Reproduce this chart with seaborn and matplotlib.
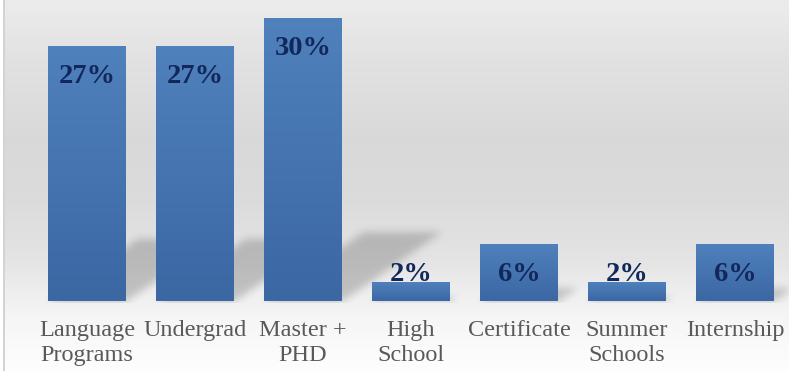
import numpy as np
import pandas as pd
import matplotlib
matplotlib.use("Agg")
import matplotlib.pyplot as plt
import matplotlib.colors as mcolors
import seaborn as sns

# ---- data ----
categories = ["Language\nPrograms", "Undergrad", "Master +\nPHD", "High\nSchool",
              "Certificate", "Summer\nSchools", "Internship"]
values = [27, 27, 30, 2, 6, 2, 6]
value_labels = ["27%", "27%", "30%", "2%", "6%", "2%", "6%"]

df = pd.DataFrame({"category": categories, "value": values})

sns.set_theme(style="white")
plt.rcParams["font.family"] = ["Liberation Serif", "DejaVu Serif"]

W, H = 789, 371
fig = plt.figure(figsize=(W / 100, H / 100), dpi=100)

# ---- background gradient ----
bg = fig.add_axes([0, 0, 1, 1], zorder=0)
ys = np.arange(H)
stops_y = [0, 60, 140, 200, 260, 300, 320, 371]
stops_v = [0.925, 0.885, 0.85, 0.86, 0.895, 0.945, 0.965, 0.995]
col = np.interp(ys, stops_y, stops_v)
img = np.repeat(col[:, None], W, axis=1)
rgb = np.dstack([img, img, img])
rgb[:, :3, :] = 1.0
rgb[:, 3:5, :] = 0.83
bg.imshow(rgb, aspect="auto", extent=[0, W, H, 0], interpolation="bilinear")
bg.set_xlim(0, W)
bg.set_ylim(H, 0)
bg.axis("off")

# ---- main axes ----
base_px = 301
ax = fig.add_axes([33 / W, (H - base_px) / H, (W - 33) / W, base_px / H], zorder=2)
ax.patch.set_alpha(0)
px_per_unit = 9.43
ymax = base_px / px_per_unit

sns.barplot(data=df, x="category", y="value", color="#4a7bb7", width=78 / 108,
            ax=ax, saturation=1, zorder=3)
ax.set_ylim(0, ymax)
ax.set_xlim(-0.5, len(categories) - 0.5)

# shadows (blurred parallelograms) drawn in background layer
shadow = np.zeros((H, W))
yy, xx = np.mgrid[0:H, 0:W]
for p in ax.patches:
    x0 = p.get_x(); w = p.get_width(); h = p.get_height()
    X0 = 33 + (x0 + 0.5) * 108
    X1 = X0 + w * 108
    hp = h * px_per_unit
    dx, dy = 0.353 * hp, 0.247 * hp
    if dy < 1:
        continue
    t = (base_px - yy) / dy
    inside = (t >= 0) & (t <= 1)
    left = X0 + t * dx
    right = X1 + t * dx
    mask = inside & (xx >= left) & (xx <= right)
    shadow = np.maximum(shadow, mask.astype(float))

def blur(a, r):
    k = np.exp(-0.5 * (np.arange(-3 * r, 3 * r + 1) / r) ** 2)
    k /= k.sum()
    a = np.apply_along_axis(lambda m: np.convolve(m, k, mode="same"), 0, a)
    a = np.apply_along_axis(lambda m: np.convolve(m, k, mode="same"), 1, a)
    return a

shadow = blur(shadow, 4)
shadow[base_px + 2:, :] *= 0.0
rgba = np.zeros((H, W, 4))
rgba[..., 3] = shadow * 0.19
bg.imshow(rgba, aspect="auto", extent=[0, W, H, 0], interpolation="bilinear", zorder=2)

# gradient fill on bars
cmap = mcolors.LinearSegmentedColormap.from_list("bar", ["#3b67a3", "#4f81bd"])
grad = np.linspace(0, 1, 256)[:, None]
for p in ax.patches:
    x0 = p.get_x(); w = p.get_width(); h = p.get_height()
    im = ax.imshow(grad, cmap=cmap, aspect="auto", origin="lower",
                   extent=[x0, x0 + w, 0, h], zorder=3.5)
    im.set_clip_path(p)
    p.set_edgecolor("none")
ax.set_xlim(-0.5, len(categories) - 0.5)
ax.set_ylim(0, ymax)

# value labels
for i, (v, lab) in enumerate(zip(values, value_labels)):
    ax.annotate(lab, xy=(i, max(v, 6)), xytext=(0, -22), textcoords="offset points",
                ha="center", va="center", fontsize=20.5, fontweight="bold",
                color="#12285c", zorder=5)

# axes styling
ax.set_xlabel("")
ax.set_ylabel("")
ax.set_yticks([])
ax.tick_params(axis="x", length=0, pad=14, labelsize=17.5, labelcolor="#595959")
for lbl in ax.get_xticklabels():
    lbl.set_linespacing(1.2)
    lbl.set_va("top")
for s in ax.spines.values():
    s.set_visible(False)

fig.savefig("out.png", dpi=100)
